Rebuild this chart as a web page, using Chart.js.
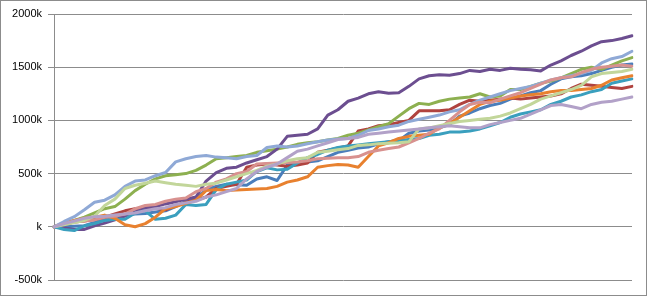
<!DOCTYPE html>
<html>
<head>
<meta charset="utf-8">
<script src="https://cdn.jsdelivr.net/npm/chart.js@4/dist/chart.umd.min.js"></script>
<style>
html,body{margin:0;padding:0;background:#fff;}
#wrap{width:647px;height:296px;position:relative;}
</style>
</head>
<body>
<div id="wrap"><canvas id="c" width="647" height="296"></canvas></div>
<script>
// y-axis tick values (thousands) and labels
const tickValues = [-500, 0, 500, 1000, 1500, 2000];
const tickLabels = ["-500k", "k", "500k", "1000k", "1500k", "2000k"];

// series values (thousands), 58 samples each
const purple = [0,-10,-25,-25,10,35,65,100,140,175,190,215,235,260,280,430,510,550,560,600,630,660,730,850,860,870,920,1050,1100,1180,1210,1250,1270,1255,1260,1320,1390,1420,1430,1425,1440,1470,1460,1480,1470,1490,1480,1475,1465,1520,1560,1610,1650,1700,1740,1750,1770,1795];
const lightBlue = [0,50,95,160,230,250,300,380,430,440,480,510,610,640,660,670,655,650,640,660,670,745,760,750,760,780,800,815,825,830,860,905,920,940,955,990,1010,1030,1050,1080,1100,1150,1190,1220,1250,1280,1300,1320,1350,1380,1400,1420,1440,1470,1540,1580,1600,1650];
const green = [0,30,60,90,130,170,190,260,340,400,450,480,490,500,530,580,640,650,660,670,700,715,730,750,775,790,800,815,830,860,880,910,940,970,1040,1110,1160,1150,1180,1200,1210,1220,1250,1220,1230,1290,1290,1320,1350,1370,1400,1440,1480,1500,1480,1520,1560,1590];
const lightGreen = [0,20,40,60,100,200,260,360,390,410,430,415,400,390,380,400,410,440,470,500,530,570,590,620,640,650,700,710,725,735,765,770,780,785,790,800,920,930,950,970,990,1000,1010,1020,1040,1070,1110,1150,1200,1230,1260,1290,1330,1410,1440,1450,1460,1480];
const orange = [0,40,60,80,90,110,80,20,0,30,90,170,190,220,250,340,350,340,345,350,355,360,380,420,440,470,560,575,585,580,560,660,760,790,830,850,860,870,930,970,1030,1090,1150,1180,1190,1210,1230,1240,1250,1270,1280,1280,1290,1300,1330,1380,1400,1420];
const teal = [0,-25,-35,10,30,60,70,70,130,150,70,80,110,210,200,210,350,400,420,440,520,555,535,540,600,650,680,720,745,760,770,780,790,800,810,820,830,860,870,890,890,900,920,950,980,1030,1060,1080,1100,1150,1180,1220,1240,1270,1290,1350,1370,1390];
const blue = [0,0,5,10,40,80,100,110,120,125,140,150,190,240,260,350,380,400,395,390,450,470,435,580,600,610,620,660,700,720,740,750,780,800,810,880,900,910,930,960,1040,1070,1110,1140,1160,1200,1230,1260,1280,1340,1390,1410,1420,1440,1470,1500,1520,1530];
const darkRed = [0,20,45,55,70,90,120,150,170,180,175,160,200,230,250,280,360,380,400,560,580,590,580,570,580,600,700,720,740,760,900,920,950,960,980,1000,1090,1090,1090,1100,1150,1190,1180,1190,1200,1210,1200,1210,1220,1230,1250,1300,1340,1330,1320,1310,1300,1320];
const pink = [0,25,45,55,65,90,100,120,170,200,210,240,260,270,330,360,420,450,500,520,590,595,600,605,610,620,640,645,650,650,660,700,720,735,750,790,830,880,920,1000,1080,1150,1170,1165,1200,1230,1260,1300,1340,1380,1400,1410,1450,1480,1500,1510,1520,1510];
const lavender = [0,30,55,80,95,100,110,120,130,150,170,180,210,225,240,280,300,330,360,450,520,560,590,650,710,730,760,790,820,830,840,870,880,890,900,910,920,930,940,950,940,930,930,960,980,1000,1020,1060,1100,1140,1150,1130,1110,1150,1170,1180,1200,1220];

const categories = purple.map((_, i) => String(i + 1));

const seriesList = [
  { data: blue, color: "#4A7EBB" },
  { data: darkRed, color: "#B0433F" },
  { data: green, color: "#8DB050" },
  { data: purple, color: "#6C4E90" },
  { data: teal, color: "#3A9FBE" },
  { data: orange, color: "#E8812F" },
  { data: lightBlue, color: "#8FA9D6" },
  { data: pink, color: "#D8918F" },
  { data: lightGreen, color: "#C2D69A" },
  { data: lavender, color: "#B2A1C8" }
];

const frame = {
  id: "frame",
  beforeDraw(chart) {
    const ctx = chart.ctx;
    ctx.save();
    ctx.fillStyle = "#fff";
    ctx.fillRect(0, 0, chart.width, chart.height);
    ctx.restore();
  },
  afterDraw(chart) {
    const ctx = chart.ctx;
    ctx.save();
    ctx.strokeStyle = "#8C8C8C";
    ctx.lineWidth = 1;
    ctx.strokeRect(0.5, 0.5, chart.width - 1, chart.height - 1);
    ctx.restore();
  }
};

new Chart(document.getElementById("c"), {
  type: "line",
  data: {
    labels: categories,
    datasets: seriesList.map((s, i) => ({
      label: "S" + (i + 1),
      data: s.data,
      borderColor: s.color,
      backgroundColor: s.color,
      borderWidth: 3,
      pointRadius: 0,
      tension: 0,
      borderJoinStyle: "round",
      borderCapStyle: "round",
      order: seriesList.length - i
    }))
  },
  options: {
    responsive: false,
    animation: false,
    layout: { padding: { left: 0, top: 14, right: 15, bottom: 16 } },
    plugins: { legend: { display: false }, tooltip: { enabled: false } },
    scales: {
      x: {
        display: false,
        offset: false
      },
      y: {
        min: -500,
        max: 2000,
        afterBuildTicks(scale) {
          scale.ticks = tickValues.map(v => ({ value: v }));
        },
        afterFit(scale) { scale.width = 54; },
        grid: {
          color: "#8C8C8C",
          lineWidth: 1,
          tickLength: 6,
          drawTicks: true
        },
        border: { display: true, color: "#8C8C8C", width: 1 },
        ticks: {
          padding: 6,
          color: "#000",
          font: { family: "Liberation Sans", size: 11 },
          callback(value) {
            const idx = tickValues.indexOf(value);
            return idx >= 0 ? tickLabels[idx] : "";
          }
        }
      }
    }
  },
  plugins: [frame]
});
</script>
</body>
</html>
